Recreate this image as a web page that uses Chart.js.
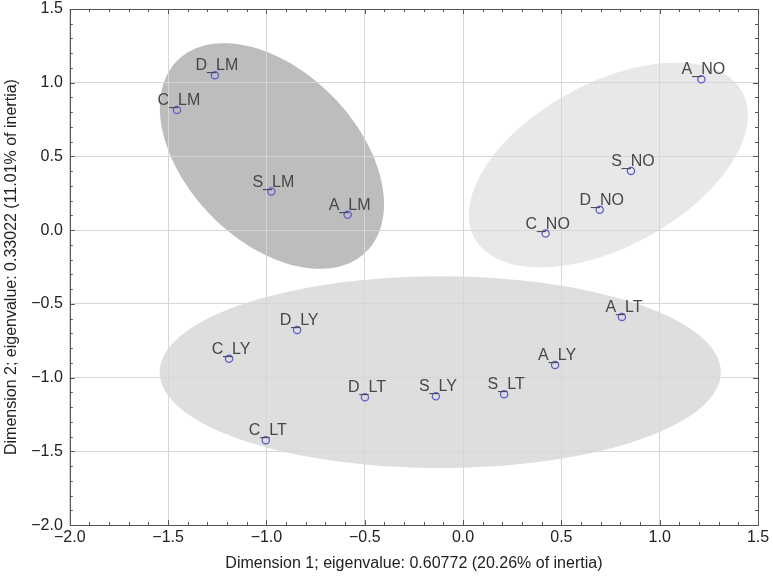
<!DOCTYPE html>
<html>
<head>
<meta charset="utf-8">
<script src="https://cdn.jsdelivr.net/npm/chart.js@4/dist/chart.umd.min.js"></script>
<style>
  body { margin: 0; background: #fff; }
  #wrap { width: 773px; height: 576px; }
</style>
</head>
<body>
<div id="wrap"><canvas id="caChart"></canvas></div>
<script>
// points of the correspondence analysis
const names = ["D_LM", "C_LM", "S_LM", "A_LM", "A_NO", "S_NO", "D_NO", "C_NO",
  "A_LT", "A_LY", "S_LT", "S_LY", "D_LT", "D_LY", "C_LY", "C_LT"];
const dim1 = [-1.262, -1.455, -0.975, -0.587, 1.212, 0.854, 0.695, 0.420,
  0.808, 0.468, 0.209, -0.138, -0.499, -0.844, -1.190, -1.003];
const dim2 = [1.050, 0.815, 0.262, 0.104, 1.023, 0.402, 0.138, -0.023,
  -0.588, -0.915, -1.112, -1.126, -1.133, -0.677, -0.872, -1.425];

// axis ticks
const xTicks = [-2.0, -1.5, -1.0, -0.5, 0.0, 0.5, 1.0, 1.5];
const yTicks = [-2.0, -1.5, -1.0, -0.5, 0.0, 0.5, 1.0, 1.5];

// group ellipses (data units): centre and two conjugate semi-axes
const groupCentre = [[-0.972, 0.503], [0.739, 0.442], [-0.116, -0.963]];
const groupAxisU = [[0.479, -0.650], [0.681, 0.495], [1.427, 0]];
const groupAxisV = [[-0.309, -0.404], [0.199, -0.487], [0, 0.650]];
const groupFill = ["#bdbdbd", "#e8e8e8", "#dedede"];

const fmt = v => v.toFixed(1).replace("-", "\u2212");
const FONT = "'Liberation Sans', Arial, Helvetica, sans-serif";

const ellipses = {
  id: "ellipses",
  beforeDraw(chart) {
    const { ctx, chartArea, scales } = chart;
    ctx.save();
    ctx.beginPath();
    ctx.rect(chartArea.left, chartArea.top, chartArea.right - chartArea.left, chartArea.bottom - chartArea.top);
    ctx.clip();
    groupCentre.forEach((c, i) => {
      const u = groupAxisU[i], v = groupAxisV[i];
      ctx.beginPath();
      for (let k = 0; k <= 180; k++) {
        const t = k / 180 * Math.PI * 2;
        const dx = c[0] + u[0] * Math.cos(t) + v[0] * Math.sin(t);
        const dy = c[1] + u[1] * Math.cos(t) + v[1] * Math.sin(t);
        const px = scales.x.getPixelForValue(dx), py = scales.y.getPixelForValue(dy);
        if (k === 0) ctx.moveTo(px, py); else ctx.lineTo(px, py);
      }
      ctx.closePath();
      ctx.fillStyle = groupFill[i];
      ctx.fill();
    });
    ctx.restore();
  }
};

const frame = {
  id: "frame",
  afterDatasetsDraw(chart) {
    const { ctx, chartArea: a, scales } = chart;
    ctx.save();
    // point labels
    ctx.font = "16px " + FONT;
    ctx.fillStyle = "#474747";
    ctx.textAlign = "center";
    ctx.textBaseline = "alphabetic";
    names.forEach((n, i) => {
      const px = scales.x.getPixelForValue(dim1[i]), py = scales.y.getPixelForValue(dim2[i]);
      ctx.fillText(n, px + 2, py - 5);
    });
    // frame and inward minor ticks
    ctx.strokeStyle = "#555";
    ctx.lineWidth = 1;
    ctx.strokeRect(Math.round(a.left) + 0.5, Math.round(a.top) + 0.5,
      Math.round(a.right - a.left), Math.round(a.bottom - a.top));
    ctx.beginPath();
    for (let k = -20; k <= 15; k++) {
      const len = k % 5 === 0 ? 5 : 3;
      const x = Math.round(scales.x.getPixelForValue(k / 10)) + 0.5;
      ctx.moveTo(x, a.bottom); ctx.lineTo(x, a.bottom - len);
      ctx.moveTo(x, a.top); ctx.lineTo(x, a.top + len);
      const y = Math.round(scales.y.getPixelForValue(k / 10)) + 0.5;
      ctx.moveTo(a.left, y); ctx.lineTo(a.left + len, y);
      ctx.moveTo(a.right, y); ctx.lineTo(a.right - len, y);
    }
    ctx.stroke();
    ctx.restore();
  }
};

new Chart(document.getElementById("caChart"), {
  type: "scatter",
  data: {
    datasets: [{
      data: dim1.map((x, i) => ({ x: x, y: dim2[i] })),
      pointRadius: 3.6,
      pointHoverRadius: 3.6,
      pointBorderWidth: 1.3,
      pointBorderColor: "#5c5cd6",
      pointBackgroundColor: "rgba(0,0,0,0)"
    }]
  },
  plugins: [ellipses, frame],
  options: {
    responsive: true,
    maintainAspectRatio: false,
    animation: false,
    layout: { padding: { top: 9, right: 15, left: 2, bottom: 2.5 } },
    plugins: { legend: { display: false }, tooltip: { enabled: false } },
    scales: {
      x: {
        type: "linear",
        min: xTicks[0],
        max: xTicks[xTicks.length - 1],
        afterBuildTicks: s => { s.ticks = xTicks.map(v => ({ value: v })); },
        ticks: { callback: fmt, color: "#222", font: { size: 16, family: FONT }, padding: 3, maxRotation: 0 },
        grid: { color: "#d6d6d6", drawTicks: false },
        border: { display: false },
        title: {
          display: true,
          text: "Dimension 1; eigenvalue: 0.60772 (20.26% of inertia)",
          color: "#222", font: { size: 16, family: FONT }, padding: { top: 4, bottom: 0 }
        }
      },
      y: {
        type: "linear",
        min: yTicks[0],
        max: yTicks[yTicks.length - 1],
        afterBuildTicks: s => { s.ticks = yTicks.map(v => ({ value: v })); },
        afterFit: s => { s.paddingTop = 0; s.paddingBottom = 0; },
        ticks: { callback: fmt, color: "#222", font: { size: 16, family: FONT }, padding: 7 },
        grid: { color: "#d6d6d6", drawTicks: false },
        border: { display: false },
        title: {
          display: true,
          text: "Dimension 2; eigenvalue: 0.33022 (11.01% of inertia)",
          color: "#222", font: { size: 16, family: FONT }, padding: { top: 0, bottom: 3 }
        }
      }
    }
  }
});
</script>
</body>
</html>
